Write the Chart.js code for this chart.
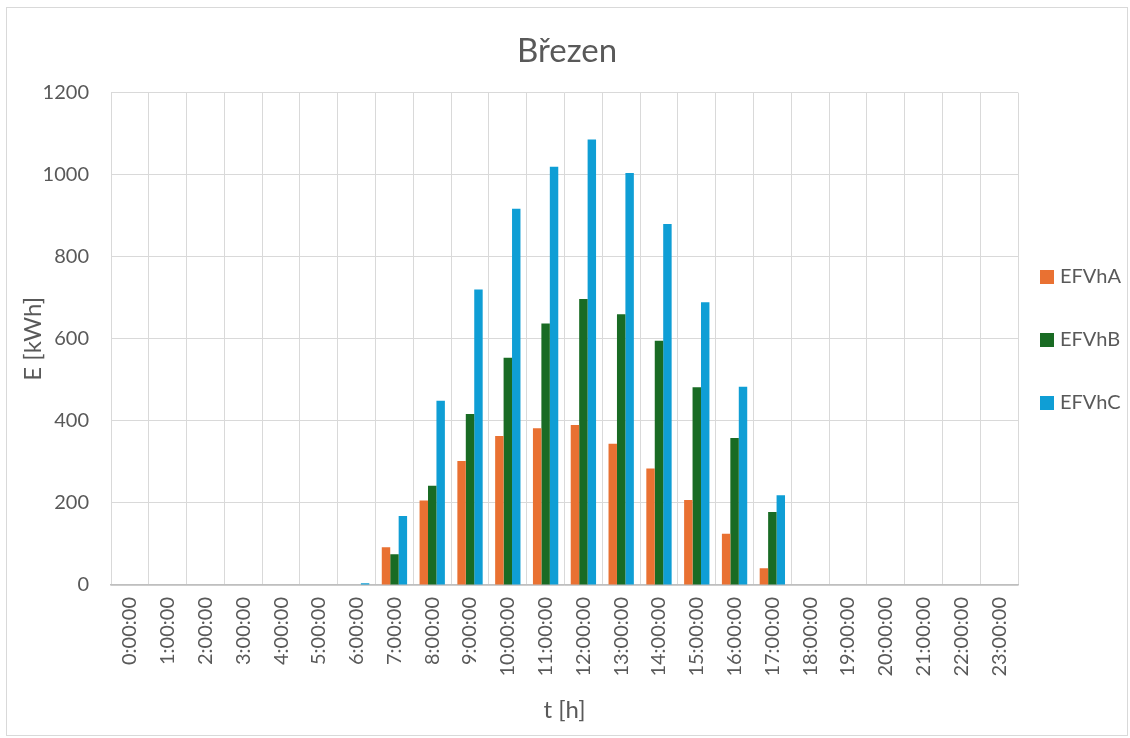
<!DOCTYPE html>
<html>
<head>
<meta charset="utf-8">
<script src="https://cdn.jsdelivr.net/npm/chart.js@4/dist/chart.umd.min.js"></script>
<style>
    body { margin: 0; background: #fff; }
    #box { position: absolute; left: 6px; top: 7px; width: 1120px; height: 727px; border: 1px solid #d9d9d9; }
    #legend { position: absolute; left: 1033px; top: 0; font-family: Lato, sans-serif; font-size: 20px; color: #595959; }
    .item { position: absolute; left: 0; white-space: nowrap; line-height: 20px; }
    .item span.sw { display: inline-block; width: 14px; height: 14px; margin-right: 6px; vertical-align: -1px; }
</style>
</head>
<body>
<div id="box">
    <canvas id="chart" width="1120" height="727"></canvas>
    <div id="legend"></div>
</div>
<script>
var hours = ['0:00:00', '1:00:00', '2:00:00', '3:00:00', '4:00:00', '5:00:00', '6:00:00', '7:00:00',
    '8:00:00', '9:00:00', '10:00:00', '11:00:00', '12:00:00', '13:00:00', '14:00:00', '15:00:00',
    '16:00:00', '17:00:00', '18:00:00', '19:00:00', '20:00:00', '21:00:00', '22:00:00', '23:00:00'];
var efvhA = [0, 0, 0, 0, 0, 0, 1, 92, 206, 302, 363, 382, 390, 344, 284, 207, 125, 41, 0, 0, 0, 0, 0, 0];
var efvhB = [0, 0, 0, 0, 0, 0, 1, 75, 242, 417, 554, 637, 697, 660, 595, 482, 358, 178, 1, 0, 0, 0, 0, 0];
var efvhC = [0, 0, 0, 0, 0, 0, 4, 168, 449, 720, 917, 1019, 1086, 1004, 880, 689, 483, 219, 1, 0, 0, 0, 0, 0];
var yTicks = [0, 200, 400, 600, 800, 1000, 1200];

var grey = '#595959';
var font = 'Lato, sans-serif';

var data = {
    labels: hours,
    datasets: [
        { label: 'EFVhA', data: efvhA, backgroundColor: '#E97132' },
        { label: 'EFVhB', data: efvhB, backgroundColor: '#196B24' },
        { label: 'EFVhC', data: efvhC, backgroundColor: '#0F9ED5' }
    ]
};

var myChart = new Chart(document.getElementById('chart'), {
    type: 'bar',
    data: data,
    options: {
        responsive: false,
        animation: false,
        layout: { padding: 0 },
        datasets: {
            bar: { categoryPercentage: 0.67, barPercentage: 1 }
        },
        plugins: {
            legend: { display: false },
            tooltip: { enabled: false },
            title: {
                display: true,
                text: 'Březen',
                color: grey,
                font: { family: font, size: 33, weight: 'normal' },
                padding: { top: 24, bottom: 21 }
            }
        },
        scales: {
            x: {
                grid: { color: '#d9d9d9', lineWidth: 1, drawTicks: false, offset: true },
                border: { color: '#bfbfbf', width: 1.5 },
                ticks: {
                    color: grey, font: { family: font, size: 20 },
                    maxRotation: 90, minRotation: 90, padding: 12, autoSkip: false
                },
                title: {
                    display: true, text: 't [h]', color: grey,
                    font: { family: font, size: 24 }, padding: { top: 0, bottom: 10 }
                },
                afterFit: function (scale) { scale.height = 150; }
            },
            y: {
                min: 0,
                max: 1200,
                grid: { color: '#d9d9d9', lineWidth: 1, drawTicks: false },
                border: { display: false },
                afterBuildTicks: function (scale) {
                    scale.ticks = yTicks.map(function (v) { return { value: v }; });
                },
                ticks: {
                    color: grey, font: { family: font, size: 20 }, padding: 22,
                    callback: function (v) { return String(v); }
                },
                title: {
                    display: true, text: 'E [kWh]', color: grey,
                    font: { family: font, size: 24 }, padding: { top: 12, bottom: 0 }
                },
                afterFit: function (scale) { scale.width = 104; }
            },
            // empty space on the right for the legend, so the title stays centred on the whole chart
            legendSpace: {
                position: 'right',
                grid: { display: false },
                border: { display: false },
                ticks: { display: false },
                afterFit: function (scale) { scale.width = 109; }
            }
        }
    }
});

// legend next to the plot, built from the datasets
var tops = [257, 320, 383];
var html = '';
myChart.data.datasets.forEach(function (ds, i) {
    html += '<div class="item" style="top:' + tops[i] + 'px"><span class="sw" style="background:' +
        ds.backgroundColor + '"></span>' + ds.label + '</div>';
});
document.getElementById('legend').innerHTML = html;
</script>
</body>
</html>
